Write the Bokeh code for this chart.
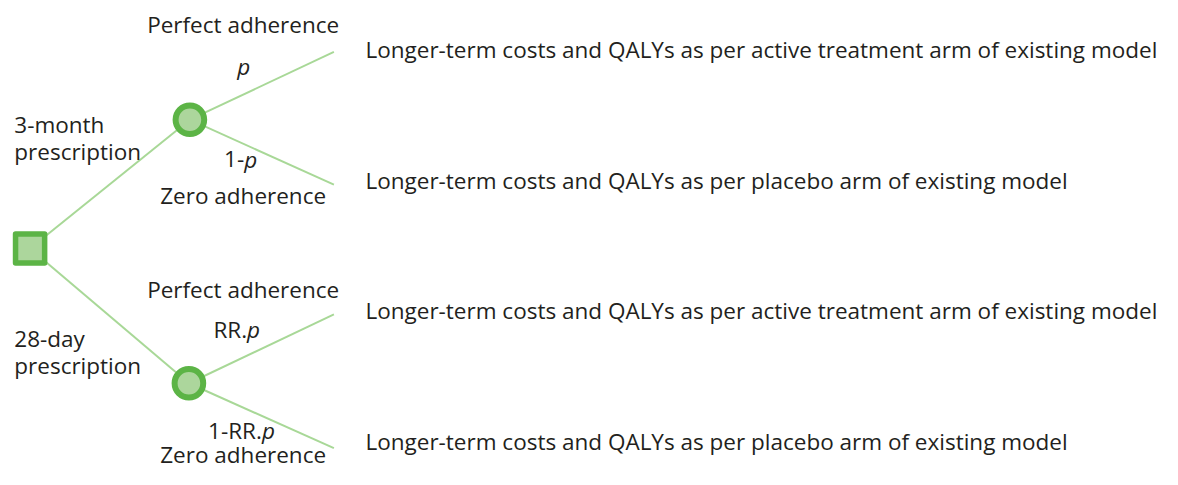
from bokeh.plotting import figure
from bokeh.models import Range1d
from bokeh.core.properties import value
from bokeh.embed import file_html
from bokeh.resources import INLINE

# ---- content (labels of the decision tree) ----
arm_labels = ["3-month", "prescription", "28-day", "prescription"]
branch_names = ["Perfect adherence", "Zero adherence", "Perfect adherence", "Zero adherence"]
prob_plain = ["", "1-", "RR.", "1-RR."]
prob_italic = ["p", "p", "p", "p"]
outcomes = [
    "Longer-term costs and QALYs as per active treatment arm of existing model",
    "Longer-term costs and QALYs as per placebo arm of existing model",
    "Longer-term costs and QALYs as per active treatment arm of existing model",
    "Longer-term costs and QALYs as per placebo arm of existing model",
]

# ---- layout (positions in reference-picture coordinates) ----
root = (30, 256)
chance_x = [192, 191]
chance_y = [123, 395]
leaf_x = [338, 338, 338, 338]
leaf_y = [53, 190, 324, 462]

arm_x = [14, 14, 14, 14]
arm_y = [128, 156, 349, 377]
name_x = [246, 246, 246, 246]
name_y = [25, 201, 298, 469]
prob_x = [240, 247, 250, 265]
prob_y = [68, 164, 340, 444]
out_x = [370, 370, 370, 370]
out_y = [51, 186, 320, 455]

DARK = "#5cb446"
LIGHT = "#acd69c"
LINE = "#a8d897"
TEXT = "#231f20"
FONT = value("Open Sans")
FS = value("22.5px")

W, H = 1162, 469
p = figure(width=W, height=H, output_backend="svg", toolbar_location=None,
           x_range=Range1d(0, 1178), y_range=Range1d(484, 0),
           min_border=0, outline_line_color=None)
p.axis.visible = False
p.grid.visible = False
p.background_fill_color = "white"

# edges
x0 = [root[0], root[0]] + [chance_x[0]] * 2 + [chance_x[1]] * 2
y0 = [root[1], root[1]] + [chance_y[0]] * 2 + [chance_y[1]] * 2
x1 = chance_x + leaf_x
y1 = chance_y + leaf_y
p.segment(x0=x0, y0=y0, x1=x1, y1=y1, line_color=LINE, line_width=2)

# decision node
p.rect(x=[root[0]], y=[root[1]], width=29.5, height=30, fill_color=LIGHT,
       line_color=DARK, line_width=5.5, line_join="round")
# chance nodes
p.circle(x=chance_x, y=chance_y, radius=14.5, fill_color=LIGHT,
         line_color=DARK, line_width=6)

common = dict(text_font=FONT, text_font_size=FS, text_color=TEXT,
              text_baseline="alphabetic")
p.text(x=arm_x, y=arm_y, text=arm_labels, text_align="left", **common)
p.text(x=name_x, y=name_y, text=branch_names, text_align="center", **common)
p.text(x=prob_x, y=prob_y, text=prob_plain, text_align="right", **common)
p.text(x=prob_x, y=prob_y, text=prob_italic, text_align="left",
       text_font_style="italic", **common)
p.text(x=out_x, y=out_y, text=outcomes, text_align="left", **common)

open("out.html", "w").write(file_html(p, INLINE))
